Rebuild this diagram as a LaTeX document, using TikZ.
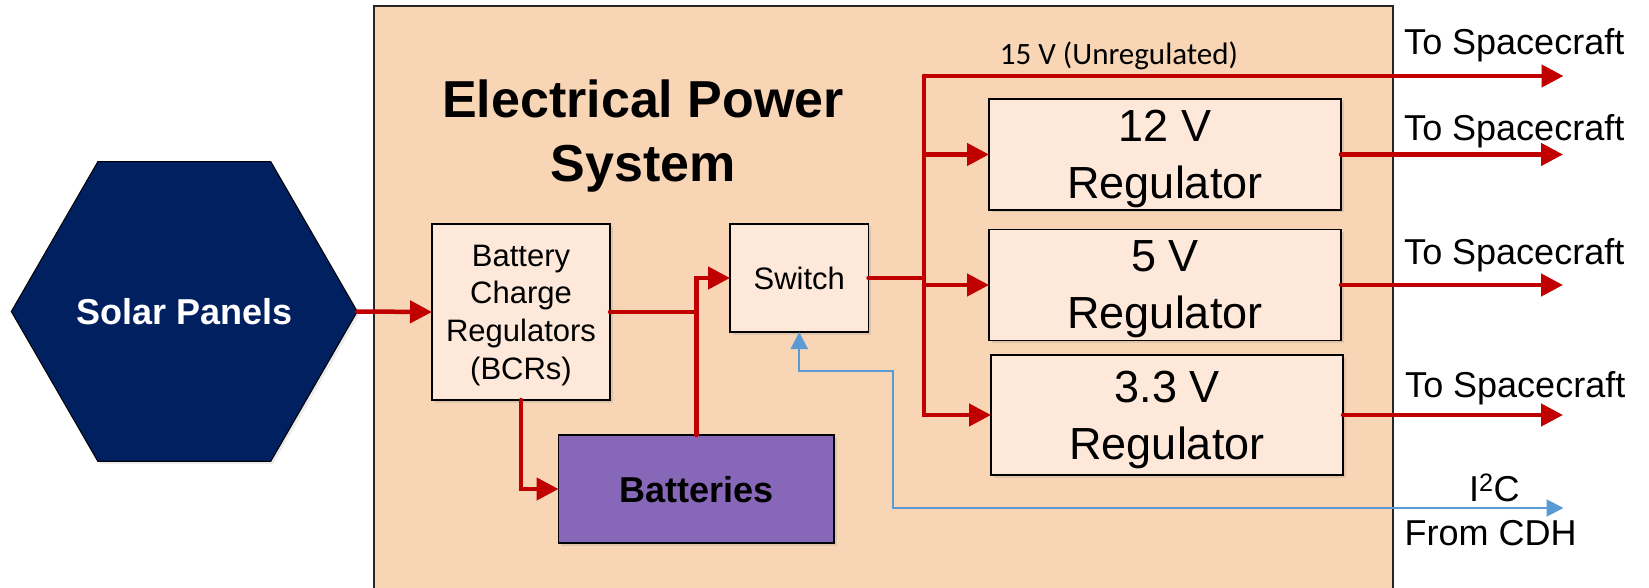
\documentclass[tikz,border=0pt]{standalone}
\usepackage{fontspec}
\setmainfont{Liberation Sans}
\newfontfamily\calibrifont{Carlito}
\usetikzlibrary{arrows.meta,shapes.geometric,shadows,calc}
\definecolor{epsfill}{HTML}{F8D5B4}
\definecolor{boxfill}{HTML}{FDE8DA}
\definecolor{navy}{HTML}{002060}
\definecolor{battfill}{HTML}{8767B8}
\definecolor{pwr}{HTML}{C00000}
\definecolor{sig}{HTML}{5B9BD5}
\begin{document}
\begin{tikzpicture}[x=1pt,y=-1pt,
  box/.style={draw=black, line width=1.6pt, fill=boxfill, inner sep=0pt, outer sep=0pt,
    text depth=0pt, align=center,
    drop shadow={shadow xshift=2.5pt,shadow yshift=-2.5pt,opacity=0.2}},
  pwrline/.style={draw=pwr, line width=4.5pt, line cap=round},
  pwrarrow/.style={pwrline, -{Triangle[length=22pt,width=22pt]}},
  sigarrow/.style={draw=sig, line width=2pt,
    {Triangle[length=17pt,width=17pt]}-{Triangle[length=17pt,width=17pt]}},
  outlabel/.style={anchor=base west, font=\fontsize{36}{43}\selectfont, inner sep=0pt},
  regtext/.style={font=\fontsize{45}{57}\selectfont},
]
\useasboundingbox (0,0) rectangle (1649,588);
% EPS enclosure
\fill[epsfill] (374,6) rectangle (1393,588);
\draw[line width=1.6pt, black!85] (374,588) -- (374,6) -- (1393,6) -- (1393,588);

% solar panel hexagon (regular, side 173)
\coordinate (solarC) at (184.3,311.5);
\coordinate (solarE) at (357.3,311.5);
\path[fill=navy, draw=black, line width=1pt,
  drop shadow={shadow xshift=2.5pt,shadow yshift=-2.5pt,opacity=0.15}]
  (11.3,311.5) -- (97.8,161.7) -- (270.8,161.7) -- (solarE) -- (270.8,461.3) -- (97.8,461.3) -- cycle;
\node[text=white, text depth=0pt, inner sep=0pt, font=\bfseries\fontsize{36}{43}\selectfont] (solar) at (solarC) {Solar Panels};

\node[font=\bfseries\fontsize{52}{64}\selectfont, align=center, text depth=0pt] (title) at (643,131) {Electrical Power\\System};

\node[box, minimum width=178pt, minimum height=176pt, font=\fontsize{31}{37.7}\selectfont] (bcr) at (521,312) {Battery\\Charge\\Regulators\\(BCRs)};
\node[box, minimum width=138.5pt, minimum height=108pt, font=\fontsize{31}{37}\selectfont] (switch) at (799.25,278) {Switch};
\node[box, fill=battfill, minimum width=275.5pt, minimum height=108pt, font=\bfseries\fontsize{36}{43}\selectfont] (batt) at (696.25,489) {Batteries};
\node[box, regtext, minimum width=352pt, minimum height=111pt] (reg12) at (1165,154.5) {12 V\\Regulator};
\node[box, regtext, minimum width=352pt, minimum height=111pt] (reg5) at (1165,285) {5 V\\Regulator};
\node[box, regtext, minimum width=352pt, minimum height=120pt] (reg33) at (1167,415) {3.3 V\\Regulator};

% coordinates
\coordinate (jn) at (batt.north |- bcr.east);
\coordinate (bustop) at (924,76);
\coordinate (out15) at (1563.5,76);
\coordinate (tipx) at (1563,0);
\coordinate (bl1) at (893,371);
\coordinate (cdh) at (1563.5,508);

% power connectors
\draw[pwrarrow] (solarE) -- (bcr.west);
\draw[pwrline] (bcr.east) -- (jn);
\draw[pwrarrow] (batt.north) |- (switch.west);
\draw[pwrarrow] (bcr.south) |- (batt.west);
\draw[pwrline] (switch.east) -- (switch.east -| bustop);
\draw[pwrarrow] (bustop) |- (reg33.west);
\draw[pwrarrow] (bustop) -- (out15);
\draw[pwrarrow] (reg12.west -| bustop) -- (reg12.west);
\draw[pwrarrow] (reg5.west -| bustop) -- (reg5.west);
\draw[pwrarrow] (reg12.east) -- (reg12.east -| tipx);
\draw[pwrarrow] (reg5.east) -- (reg5.east -| tipx);
\draw[pwrarrow] (reg33.east) -- (reg33.east -| tipx);

% I2C signal
\draw[sigarrow] (cdh) -- (cdh -| bl1) -- (bl1) -- (bl1 -| switch.south) -- (switch.south);

% labels
\node[anchor=base, inner sep=0pt, font=\calibrifont\fontsize{31}{37}\selectfont] (l15) at (1119,64.5) {15 V (Unregulated)};
\node[outlabel] (ts1) at (1404,55) {To Spacecraft};
\node[outlabel] (ts2) at (1404,140.6) {To Spacecraft};
\node[outlabel] (ts3) at (1404,264) {To Spacecraft};
\node[outlabel] (ts4) at (1405,397.5) {To Spacecraft};
\node[outlabel] (i2c) at (1469,501) {I\textsuperscript{2}C};
\node[outlabel] (cdhl) at (1404.5,545.6) {From CDH};
\end{tikzpicture}
\end{document}
